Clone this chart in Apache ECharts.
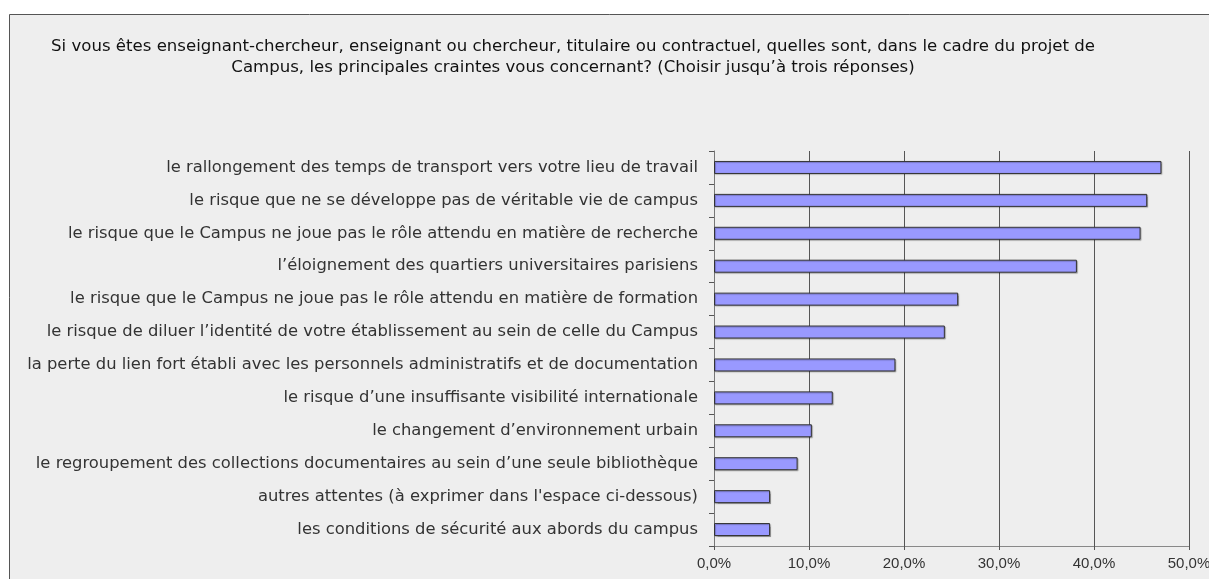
<!DOCTYPE html>
<html>
<head>
<meta charset="utf-8">
<script src="https://cdn.jsdelivr.net/npm/echarts@6/dist/echarts.min.js"></script>
<style>
  html, body { margin: 0; padding: 0; background: #fff; }
  #chart { width: 1209px; height: 579px; }
</style>
</head>
<body>
<div id="chart"></div>
<script>
const titleLines = [
  'Si vous êtes enseignant-chercheur, enseignant ou chercheur, titulaire ou contractuel, quelles sont, dans le cadre du projet de',
  'Campus, les principales craintes vous concernant? (Choisir jusqu\u2019à trois réponses)'
]

const categories = [
  'le rallongement des temps de transport vers votre lieu de travail',
  'le risque que ne se développe pas de véritable vie de campus',
  'le risque que le Campus ne joue pas le rôle attendu en matière de recherche',
  'l\u2019éloignement des quartiers universitaires parisiens',
  'le risque que le Campus ne joue pas le rôle attendu en matière de formation',
  'le risque de diluer l\u2019identité de votre établissement au sein de celle du Campus',
  'la perte du lien fort établi avec les personnels administratifs et de documentation',
  'le risque d\u2019une insuffisante visibilité internationale',
  'le changement d\u2019environnement urbain',
  'le regroupement des collections documentaires au sein d\u2019une seule bibliothèque',
  'autres attentes (à exprimer dans l\'espace ci-dessous)',
  'les conditions de sécurité aux abords du campus'
]

const values = [47.1, 45.6, 44.9, 38.2, 25.7, 24.3, 19.1, 12.5, 10.3, 8.8, 5.9, 5.9]

const axisMax = 50
const axisStep = 10

const FONT = 'DejaVu Sans'

// pick a font size so that a text spans the width it has in the reference
function fitSize(text, targetWidth) {
  const ctx = document.createElement('canvas').getContext('2d')
  ctx.font = '100px "' + FONT + '"'
  return 100 * targetWidth / ctx.measureText(text).width
}

const labelSize = fitSize(categories[6], 671)
const titleSize = fitSize(titleLines[0], 1045)

const chart = echarts.init(document.getElementById('chart'))

chart.setOption({
  backgroundColor: '#ffffff',
  animation: false,
  graphic: [
    {
      type: 'rect',
      z: -10,
      shape: { x: 9.5, y: 14.5, width: 1210, height: 570 },
      style: { fill: '#eeeeee', stroke: '#555', lineWidth: 1 }
    }
  ],
  title: {
    text: titleLines.join('\n'),
    left: 568,
    top: 31,
    textAlign: 'center',
    textStyle: {
      fontFamily: FONT,
      fontSize: titleSize,
      fontWeight: 'normal',
      color: '#111',
      lineHeight: 21
    }
  },
  grid: { left: 714, right: 20, top: 151, bottom: 33, outerBoundsMode: 'none' },
  xAxis: {
    type: 'value',
    min: 0,
    max: axisMax,
    interval: axisStep,
    axisLine: { show: true, lineStyle: { color: '#888', width: 1 } },
    axisTick: { show: true, length: 4, lineStyle: { color: '#555' } },
    splitLine: { show: true, lineStyle: { color: '#555', width: 1 } },
    axisLabel: {
      formatter: v => v.toFixed(1).replace('.', ',') + '%',
      fontFamily: 'Liberation Sans, Arial, sans-serif',
      fontSize: 15,
      color: '#333',
      margin: 10
    }
  },
  yAxis: {
    type: 'category',
    data: categories,
    inverse: true,
    axisLine: { show: true, lineStyle: { color: '#777', width: 1 } },
    axisTick: { show: true, length: 5, lineStyle: { color: '#555' } },
    axisLabel: {
      fontFamily: FONT,
      fontSize: labelSize,
      color: '#333',
      margin: 16
    }
  },
  series: [
    {
      type: 'bar',
      data: values,
      barWidth: 13,
      itemStyle: {
        color: '#9999ff',
        borderColor: '#333',
        borderWidth: 1,
        shadowColor: 'rgba(0,0,0,0.25)',
        shadowOffsetX: 1,
        shadowOffsetY: 1,
        shadowBlur: 1
      }
    }
  ]
})
</script>
</body>
</html>
